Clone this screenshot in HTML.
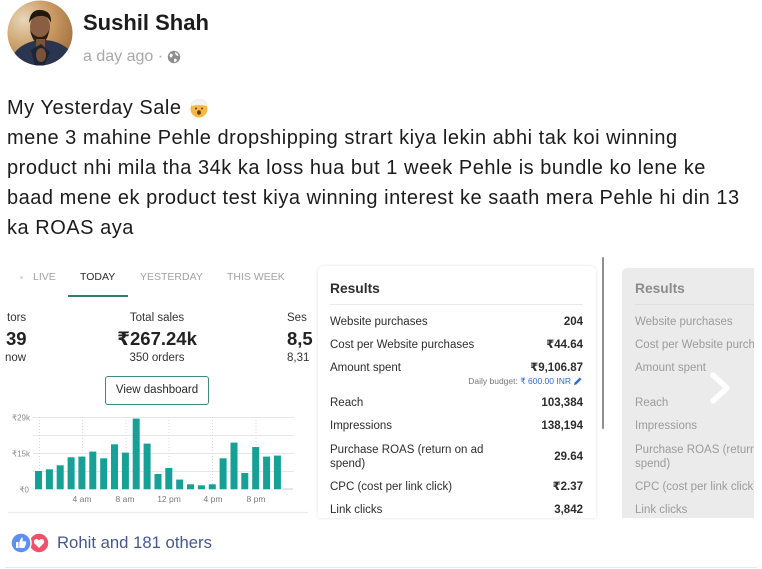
<!DOCTYPE html>
<html><head><meta charset="utf-8">
<style>
*{margin:0;padding:0;box-sizing:border-box}
html,body{width:762px;height:569px;overflow:hidden;background:#fff}
body{position:relative;font-family:"Liberation Sans","DejaVu Sans",sans-serif;color:#1d1d1d}
.a{position:absolute;white-space:nowrap}
.post{left:7px;top:93px;font-size:20px;line-height:30px;letter-spacing:0.52px;color:#1c1c1c}
.tab{top:270px;font-size:10.5px;line-height:14px;color:#a3a3a3}
.st{font-size:11.5px;line-height:14px;color:#333}
.big{font-size:18.5px;font-weight:bold;line-height:22px;color:#222}
.row{font-size:11.5px;line-height:14px;color:#2d2d2d}
.val{font-size:11.5px;line-height:14px;color:#2d2d2d;font-weight:bold;text-align:right}
.g{font-size:11.5px;line-height:14px;color:#9b9b9b}
</style></head><body>

<!-- avatar -->
<svg class="a" style="left:7px;top:0" width="66" height="66" viewBox="0 0 66 66">
<defs>
<clipPath id="cp"><circle cx="33" cy="33" r="32.5"/></clipPath>
<radialGradient id="bg" cx="0.25" cy="0.3" r="0.9"><stop offset="0" stop-color="#e8d6b8"/><stop offset="0.5" stop-color="#c99a62"/><stop offset="1" stop-color="#9c6a3a"/></radialGradient>
</defs>
<g clip-path="url(#cp)">
<rect width="66" height="66" fill="url(#bg)"/>
<ellipse cx="36" cy="64" rx="32" ry="24" fill="#2a3650"/>
<ellipse cx="33" cy="27" rx="10" ry="13" fill="#8a5e42"/>
<path d="M22 23 Q23 9 34 10 Q45 11 44 23 Q41 15 33 16 Q26 16 22 23Z" fill="#22170f"/>
<path d="M23 30 Q26 44 33 43 Q41 42 42 30 Q39 37 33 37 Q27 37 23 30Z" fill="#2e1d14"/>
<rect x="29" y="39" width="9" height="9" fill="#7a5238"/>
<path d="M24 50 L34 44 L43 52 L37 66 L28 66Z" fill="#1c2538"/>
<ellipse cx="34" cy="55" rx="5" ry="7" fill="#7a5238"/>
</g>
</svg>

<div class="a" style="left:83px;top:10px;font-size:22px;line-height:26px;font-weight:bold;color:#1c1c1c">Sushil Shah</div>
<div class="a" style="left:83px;top:47px;font-size:16px;line-height:20px;color:#a8a8a8">a day ago ·</div>
<svg class="a" style="left:167px;top:50px" width="14" height="14" viewBox="0 0 14 14">
<circle cx="7" cy="7" r="6.2" fill="#8e8e8e"/>
<path d="M3 4 Q5 3 6 5 Q5 7 4 8 Q3 7 2.5 6Z M8 2 Q11 3 11.5 6 Q10 6 9 5 Q8 4 8 2Z M7 9 Q9 8 10 10 Q9 12 7.5 12.3 Q7 11 7 9Z" fill="#fff"/>
</svg>

<!-- post text -->
<div class="a post">My Yesterday Sale<br>mene 3 mahine Pehle dropshipping strart kiya lekin abhi tak koi winning<br>product nhi mila tha 34k ka loss hua but 1 week Pehle is bundle ko lene ke<br>baad mene ek product test kiya winning interest ke saath mera Pehle hi din 13<br>ka ROAS aya</div>
<svg class="a" style="left:189px;top:98px" width="20" height="20" viewBox="0 0 20 20">
<circle cx="10" cy="11" r="8.5" fill="#f5b841"/>
<path d="M2.5 8 Q2 3 6 3 Q8 0.5 11 2 Q14 0.5 16 3.5 Q19 4.5 17.5 8 Q10 6 2.5 8Z" fill="#f4f4f4" stroke="#ddd" stroke-width="0.5"/>
<ellipse cx="10" cy="14.5" rx="2" ry="2.3" fill="#6b3a1a"/>
<circle cx="7" cy="10.5" r="1" fill="#6b3a1a"/><circle cx="13" cy="10.5" r="1" fill="#6b3a1a"/>
</svg>

<!-- left dashboard panel -->
<div class="a" style="left:20px;top:275.5px;width:3px;height:3px;border-radius:50%;background:#f3d2c2"></div>
<div class="a tab" style="left:33px">LIVE</div>
<div class="a tab" style="left:80px;color:#2a2a2a">TODAY</div>
<div class="a tab" style="left:140px">YESTERDAY</div>
<div class="a tab" style="left:227px">THIS WEEK</div>
<div class="a" style="left:68px;top:295px;width:60px;height:2px;background:#2f7d6c"></div>

<div class="a st" style="left:7px;top:311px">tors</div>
<div class="a st" style="left:107px;top:311px;width:100px;text-align:center">Total sales</div>
<div class="a st" style="left:287px;top:311px">Ses</div>
<div class="a big" style="left:6px;top:328px">39</div>
<div class="a big" style="left:97px;top:328px;width:120px;text-align:center">₹267.24k</div>
<div class="a big" style="left:287px;top:328px">8,5</div>
<div class="a st" style="left:5px;top:351px">now</div>
<div class="a st" style="left:107px;top:351px;width:100px;text-align:center">350 orders</div>
<div class="a st" style="left:287px;top:351px">8,31</div>

<div class="a" style="left:105px;top:376px;width:104px;height:29px;border:1.5px solid #3f8a80;border-radius:3px;font-size:11.5px;line-height:26px;text-align:center;color:#2a2a2a">View dashboard</div>

<svg class="a" style="left:0;top:400px" width="310" height="120" viewBox="0 0 310 120" font-family="Liberation Sans, DejaVu Sans, sans-serif">
<g stroke="#e7e7e7" stroke-width="1">
<line x1="33" y1="17.5" x2="294" y2="17.5"/>
<line x1="33" y1="35.5" x2="294" y2="35.5"/>
<line x1="33" y1="53.5" x2="294" y2="53.5"/>
<line x1="33" y1="71.5" x2="294" y2="71.5"/>
</g>
<g stroke="#d8d8d8" stroke-width="1" stroke-dasharray="1,2">
<line x1="39.5" y1="17" x2="39.5" y2="89"/>
<line x1="82.5" y1="17" x2="82.5" y2="89"/>
<line x1="126" y1="17" x2="126" y2="89"/>
<line x1="169" y1="17" x2="169" y2="89"/>
<line x1="212.5" y1="17" x2="212.5" y2="89"/>
<line x1="256" y1="17" x2="256" y2="89"/>
</g>
<line x1="283" y1="89" x2="293" y2="89" stroke="#d5d5d5" stroke-width="1.2"/>
<g fill="#16a096">
<rect x="35.0" y="71.0" width="7" height="18.3"/>
<rect x="45.9" y="69.3" width="7" height="20"/>
<rect x="56.7" y="65.3" width="7" height="24"/>
<rect x="67.6" y="57.3" width="7" height="32"/>
<rect x="78.4" y="56.6" width="7" height="32.7"/>
<rect x="89.3" y="51.6" width="7" height="37.7"/>
<rect x="100.2" y="58.3" width="7" height="31"/>
<rect x="111.0" y="44.3" width="7" height="45"/>
<rect x="121.9" y="52.6" width="7" height="36.7"/>
<rect x="132.7" y="18.6" width="7" height="70.7"/>
<rect x="143.6" y="43.6" width="7" height="45.7"/>
<rect x="154.5" y="74.0" width="7" height="15.3"/>
<rect x="165.3" y="68.0" width="7" height="21.3"/>
<rect x="176.2" y="79.6" width="7" height="9.7"/>
<rect x="187.0" y="84.3" width="7" height="5"/>
<rect x="197.9" y="85.3" width="7" height="4"/>
<rect x="208.8" y="84.3" width="7" height="5"/>
<rect x="219.6" y="58.3" width="7" height="31"/>
<rect x="230.5" y="42.6" width="7" height="46.7"/>
<rect x="241.3" y="73.0" width="7" height="16.3"/>
<rect x="252.2" y="47.0" width="7" height="42.3"/>
<rect x="263.1" y="56.6" width="7" height="32.7"/>
<rect x="273.9" y="55.6" width="7" height="33.7"/>
</g>
<g font-size="8" fill="#8a8a8a" text-anchor="end">
<text x="30" y="20.3">₹29k</text>
<text x="30" y="56.3">₹15k</text>
<text x="29" y="92.3">₹0</text>
</g>
<g font-size="8.5" fill="#7a7a7a" text-anchor="middle">
<text x="82" y="102">4 am</text>
<text x="125" y="102">8 am</text>
<text x="169" y="102">12 pm</text>
<text x="213" y="102">4 pm</text>
<text x="256" y="102">8 pm</text>
</g>
<line x1="8" y1="112.5" x2="308" y2="112.5" stroke="#ececec" stroke-width="1.2"/>
</svg>

<!-- results card -->
<div class="a" style="left:318px;top:266px;width:278px;height:252px;background:#fff;border-radius:6px 6px 0 0;box-shadow:0 0 3px rgba(0,0,0,0.12)"></div>
<div class="a" style="left:330px;top:280px;font-size:13.8px;line-height:17px;font-weight:bold;color:#2e2e2e">Results</div>
<div class="a" style="left:330px;top:304px;width:253px;height:1px;background:#e9e9e9"></div>
<div class="a row" style="left:330px;top:314.5px">Website purchases</div>
<div class="a val" style="left:483px;top:314.5px;width:100px">204</div>
<div class="a row" style="left:330px;top:337.5px">Cost per Website purchases</div>
<div class="a val" style="left:483px;top:337.5px;width:100px">₹44.64</div>
<div class="a row" style="left:330px;top:360.5px">Amount spent</div>
<div class="a val" style="left:483px;top:360.5px;width:100px">₹9,106.87</div>
<div class="a" style="left:423px;top:376px;width:148px;text-align:right;font-size:8.5px;line-height:11px;color:#777">Daily budget: <span style="color:#2d6cd2">₹ 600.00 INR</span></div>
<svg class="a" style="left:573px;top:376px" width="10" height="10" viewBox="0 0 10 10">
<path d="M1 9 L1.5 6.8 L6.8 1.5 L8.5 3.2 L3.2 8.5Z" fill="#2d6cd2"/>
</svg>
<div class="a row" style="left:330px;top:395.5px">Reach</div>
<div class="a val" style="left:483px;top:395.5px;width:100px">103,384</div>
<div class="a row" style="left:330px;top:418.5px">Impressions</div>
<div class="a val" style="left:483px;top:418.5px;width:100px">138,194</div>
<div class="a row" style="left:330px;top:442.5px">Purchase ROAS (return on ad</div>
<div class="a row" style="left:330px;top:456.5px">spend)</div>
<div class="a val" style="left:483px;top:449.5px;width:100px">29.64</div>
<div class="a row" style="left:330px;top:479.5px">CPC (cost per link click)</div>
<div class="a val" style="left:483px;top:479.5px;width:100px">₹2.37</div>
<div class="a row" style="left:330px;top:502.5px;height:15px;overflow:hidden">Link clicks</div>
<div class="a val" style="left:483px;top:502.5px;width:100px;height:15px;overflow:hidden">3,842</div>

<!-- scrollbar -->
<div class="a" style="left:601.5px;top:257px;width:2.5px;height:172px;background:#8f8f8f;border-radius:1px"></div>

<!-- right gray card -->
<div class="a" style="left:622px;top:268px;width:132px;height:250px;background:#ebebeb;border-radius:5px 0 0 0;overflow:hidden">
<div class="a" style="left:13px;top:12px;font-size:13.8px;line-height:17px;font-weight:bold;color:#8c8c8c">Results</div>
<div class="a" style="left:13px;top:36px;width:130px;height:1px;background:#e0e0e0"></div>
<div class="a g" style="left:13px;top:46.5px">Website purchases</div>
<div class="a g" style="left:13px;top:69.5px">Cost per Website purchases</div>
<div class="a g" style="left:13px;top:92.5px">Amount spent</div>
<div class="a g" style="left:13px;top:127.5px">Reach</div>
<div class="a g" style="left:13px;top:150.5px">Impressions</div>
<div class="a g" style="left:13px;top:174.5px">Purchase ROAS (return on ad</div>
<div class="a g" style="left:13px;top:188.5px">spend)</div>
<div class="a g" style="left:13px;top:211.5px">CPC (cost per link click)</div>
<div class="a g" style="left:13px;top:234.5px">Link clicks</div>
</div>
<svg class="a" style="left:706px;top:370px" width="30" height="36" viewBox="0 0 30 36">
<path d="M7 5 L21 18 L7 31" fill="none" stroke="#fff" stroke-width="5.5" stroke-linecap="round" stroke-linejoin="round"/>
</svg>

<!-- reactions -->
<svg class="a" style="left:10px;top:532px" width="42" height="22" viewBox="0 0 42 22">
<circle cx="29" cy="11" r="10" fill="#f0506e" stroke="#fff" stroke-width="1.5"/>
<path d="M29 16 L24.5 11.5 Q23 9.5 24.8 7.6 Q27 6 29 8.4 Q31 6 33.2 7.6 Q35 9.5 33.5 11.5Z" fill="#fff"/>
<circle cx="11" cy="11" r="10" fill="#5b8ff2" stroke="#fff" stroke-width="1.5"/>
<path d="M6 10 h2.5 v6 h-2.5z M9.3 10 L11.5 5.5 Q13 5.5 12.8 7.5 L12.4 9.3 H15.5 Q16.6 9.6 16.2 10.8 L15 15.3 Q14.7 16 13.8 16 H9.3Z" fill="#fff"/>
</svg>
<div class="a" style="left:57px;top:533px;font-size:16.7px;line-height:20px;color:#47598a">Rohit and 181 others</div>
<div class="a" style="left:5px;top:566.5px;width:752px;height:1.5px;background:#e9e9e9"></div>

</body></html>
